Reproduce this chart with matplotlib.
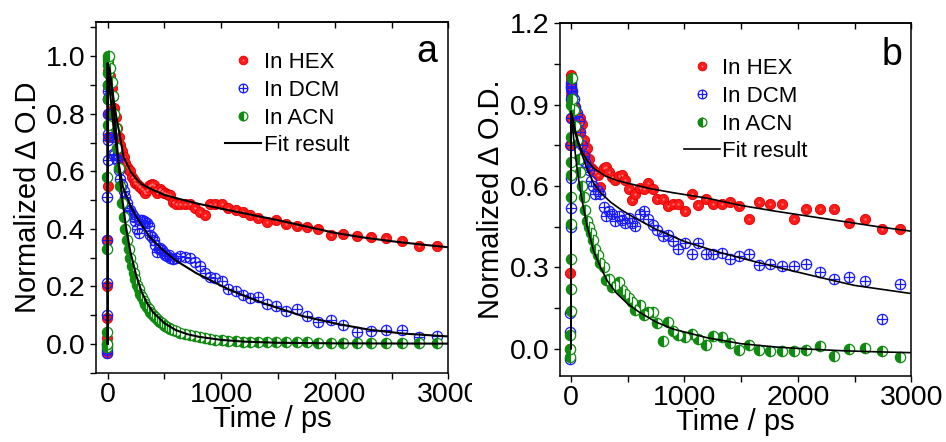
import matplotlib
matplotlib.use("Agg")
import matplotlib.pyplot as plt
from matplotlib.path import Path
from matplotlib.transforms import Bbox, TransformedBbox
from matplotlib.ticker import MultipleLocator, FormatStrFormatter

plt.rcParams['font.family'] = ['Liberation Sans', 'DejaVu Sans']

# ---------------- panel a data (time in ps, normalized dOD) ----------------
time_a = [-8, -6, -5, -4, -3, -2, -1, 0, 1, 2, 3, 4, 6,
          12, 23, 35, 47, 59, 70, 82, 97, 111, 126, 141, 156, 170, 185, 199,
          214, 229, 243, 258, 273, 287, 302, 317, 331, 346, 361, 375, 390,
          405, 419, 434, 449, 463, 478, 493, 507,
          522, 537, 551, 572, 604, 639, 683, 727, 765, 809, 853, 897, 947,
          1006, 1064, 1126, 1190, 1255, 1328, 1401, 1486, 1568, 1665, 1753,
          1856, 1964, 2073, 2193, 2316, 2451, 2594, 2741, 2897]
hex_a = [-0.03, -0.02, 0.02, 0.09, 0.20, 0.36, 0.55, 0.72, 0.80, 0.85, 0.90, 0.95, 0.98,
         0.96, 0.93, 0.89, 0.86, 0.82, 0.79, 0.75, 0.72, 0.69, 0.67, 0.65, 0.63, 0.615, 0.605, 0.60,
         0.58, 0.57, 0.56, 0.555, 0.55, 0.545, 0.54, 0.53, 0.526, 0.535, 0.548, 0.552, 0.555,
         0.551, 0.54, 0.525, 0.535, 0.54, 0.53, 0.523, 0.525,
         0.52, 0.517, 0.517, 0.494, 0.486, 0.486, 0.486, 0.486, 0.471, 0.459, 0.448, 0.486, 0.488,
         0.486, 0.471, 0.467, 0.458, 0.447, 0.439, 0.424, 0.430, 0.416, 0.409, 0.405,
         0.399, 0.378, 0.381, 0.376, 0.370, 0.368, 0.359, 0.342, 0.340]
dcm_a = [-0.03, -0.02, 0.10, 0.21, 0.36, 0.51, 0.64, 0.71, 0.73, 0.80, 0.85, 0.88, 0.90,
         0.86, 0.80, 0.72, 0.66, 0.655, 0.645, 0.638, 0.603, 0.574, 0.551, 0.53, 0.51, 0.49, 0.462, 0.465,
         0.45, 0.44, 0.427, 0.40, 0.384, 0.43, 0.430, 0.428, 0.425, 0.421, 0.41, 0.378, 0.37,
         0.361, 0.345, 0.318, 0.33, 0.332, 0.325, 0.317, 0.31,
         0.305, 0.309, 0.30, 0.295, 0.298, 0.306, 0.303, 0.298, 0.284, 0.271, 0.248, 0.231, 0.228,
         0.217, 0.191, 0.185, 0.171, 0.161, 0.163, 0.138, 0.133, 0.113, 0.121, 0.096,
         0.075, 0.084, 0.065, 0.042, 0.044, 0.050, 0.050, 0.023, 0.027]
acn_a = [-0.01, 0.0, 0.0, 0.04, 0.33, 0.58, 0.76, 0.85, 0.90, 0.94, 0.97, 0.99, 1.0,
         1.0, 0.96, 0.91, 0.86, 0.80, 0.75, 0.68, 0.61, 0.55, 0.49, 0.44, 0.40, 0.36, 0.33, 0.30,
         0.27, 0.245, 0.225, 0.205, 0.19, 0.175, 0.162, 0.15, 0.14, 0.13, 0.12, 0.112, 0.105,
         0.098, 0.092, 0.086, 0.08, 0.075, 0.071, 0.067, 0.063,
         0.059, 0.056, 0.053, 0.049, 0.044, 0.039, 0.034, 0.030, 0.026, 0.023, 0.020, 0.017, 0.015,
         0.013, 0.010, 0.010, 0.008, 0.007, 0.006, 0.006, 0.007, 0.006, 0.006, 0.006,
         0.004, 0.004, 0.004, 0.004, 0.004, 0.004, 0.004, 0.003, 0.003]

# fit curves, panel a
fit_hex_a_t = [0, 0, 20, 40, 60, 80, 100, 140, 200, 250, 300, 400, 500, 600, 800,
               1000, 1250, 1500, 1750, 2000, 2250, 2500, 2750, 3000]
fit_hex_a = [0, 0.975, 0.93, 0.88, 0.83, 0.78, 0.74, 0.65, 0.60, 0.575, 0.555, 0.535, 0.518,
             0.507, 0.487, 0.470, 0.450, 0.430, 0.408, 0.386, 0.370, 0.357, 0.346, 0.336]
fit_dcm_a_t = [0, 0, 20, 50, 100, 135, 200, 252, 369, 487, 600, 780, 1073, 1367,
               1724, 2017, 2310, 2604, 3000]
fit_dcm_a = [0, 0.975, 0.88, 0.76, 0.62, 0.545, 0.48, 0.442, 0.372, 0.326, 0.29, 0.246,
             0.188, 0.142, 0.096, 0.070, 0.049, 0.036, 0.026]
fit_acn_a_t = [0, 0, 20, 40, 60, 80, 100, 130, 160, 200, 250, 300, 350, 400, 500, 600,
               700, 800, 1000, 1200, 1500, 2000, 3000]
fit_acn_a = [0, 0.975, 0.95, 0.88, 0.79, 0.70, 0.61, 0.50, 0.41, 0.32, 0.24, 0.18, 0.14,
             0.11, 0.072, 0.048, 0.034, 0.025, 0.014, 0.008, 0.004, 0.002, 0.001]

# ---------------- panel b data ----------------
time_b = [-8, -6, -5, -4, -3, -2, -1, 0, 1, 2, 3, 4, 6,
          12, 24, 38, 53, 67, 82, 97, 111, 126, 141,
          156, 176, 194, 214, 235, 258, 287, 311, 331, 361,
          390, 419, 449, 478, 507, 537, 566, 610, 645, 683,
          721, 762, 809, 853, 897, 947, 1006, 1065, 1123, 1188,
          1255, 1328, 1402, 1481, 1569, 1657, 1753, 1856, 1964, 2076,
          2193, 2316, 2451, 2595, 2745, 2903]
hex_b = [0.0, 0.28, 0.75, 0.85, 0.92, 0.96, 0.98, 1.01, 1.0, 0.97, 0.95, 0.93, 0.90,
         0.93, 0.90, 0.88, 0.86, 0.80, 0.85, 0.83, 0.77, 0.73, 0.74,
         0.70, 0.665, 0.66, 0.652, 0.64, 0.597, 0.665, 0.671, 0.652, 0.634,
         0.622, 0.636, 0.640, 0.622, 0.588, 0.548, 0.569, 0.594, 0.588, 0.612,
         0.588, 0.551, 0.550, 0.527, 0.532, 0.533, 0.508, 0.569, 0.530, 0.550,
         0.533, 0.533, 0.539, 0.526, 0.479, 0.539, 0.533, 0.533, 0.479, 0.516,
         0.516, 0.516, 0.465, 0.478, 0.443, 0.442]
dcm_b = [-0.04, 0.06, 0.13, 0.45, 0.52, 0.63, 0.75, 0.85, 0.92, 0.96, 0.98, 0.97, 0.95,
         0.93, 0.92, 0.89, 0.87, 0.84, 0.80, 0.75, 0.71, 0.69, 0.67,
         0.66, 0.62, 0.60, 0.572, 0.58, 0.57, 0.523, 0.489, 0.508, 0.498,
         0.471, 0.489, 0.474, 0.462, 0.480, 0.464, 0.452, 0.498, 0.508, 0.478,
         0.455, 0.439, 0.416, 0.418, 0.398, 0.369, 0.391, 0.348, 0.388, 0.348,
         0.348, 0.351, 0.332, 0.341, 0.348, 0.308, 0.311, 0.305, 0.305, 0.311,
         0.283, 0.258, 0.263, 0.249, 0.111, 0.239]
acn_b = [-0.03, 0.0, 0.05, 0.14, 0.22, 0.33, 0.46, 0.56, 0.64, 0.69, 0.78, 0.90, 1.0,
         0.92, 0.88, 0.82, 0.77, 0.70, 0.65, 0.60, 0.56, 0.51, 0.47,
         0.45, 0.425, 0.40, 0.369, 0.345, 0.314, 0.302, 0.252, 0.258, 0.228,
         0.234, 0.246, 0.215, 0.203, 0.185, 0.172, 0.142, 0.160, 0.123, 0.135,
         0.135, 0.095, 0.027, 0.098, 0.064, 0.049, 0.041, 0.053, 0.037, 0.012,
         0.046, 0.043, 0.022, -0.006, 0.012, -0.004, -0.009, -0.010, -0.010, -0.006,
         0.009, -0.028, 0.000, 0.002, -0.009, -0.031]

fit_hex_b_t = [0, 0, 20, 40, 60, 80, 110, 150, 200, 300, 400, 500, 700, 900, 1200,
               1500, 1800, 2100, 2400, 2700, 3000]
fit_hex_b = [0, 0.875, 0.84, 0.80, 0.77, 0.745, 0.715, 0.69, 0.665, 0.637, 0.621, 0.610,
             0.590, 0.575, 0.555, 0.528, 0.507, 0.488, 0.469, 0.450, 0.433]
fit_dcm_b_t = [0, 0, 20, 40, 60, 80, 110, 150, 200, 260, 350, 450, 550, 750, 1000,
               1300, 1600, 1900, 2200, 2500, 3000]
fit_dcm_b = [0, 0.875, 0.83, 0.79, 0.76, 0.735, 0.70, 0.655, 0.61, 0.575, 0.54, 0.51,
             0.485, 0.44, 0.395, 0.356, 0.323, 0.292, 0.262, 0.233, 0.203]
fit_acn_b_t = [0, 0, 20, 40, 60, 80, 110, 140, 200, 260, 320, 400, 500, 600, 750, 900,
               1200, 1500, 1800, 2100, 2400, 2700, 3000]
fit_acn_b = [0, 0.875, 0.79, 0.71, 0.645, 0.59, 0.52, 0.455, 0.36, 0.30, 0.25, 0.205,
             0.165, 0.135, 0.098, 0.072, 0.040, 0.018, 0.006, -0.002, -0.008, -0.012, -0.015]

RED = '#ff1a1a'
BLUE = '#1a1aff'
GREEN = '#108a10'

# circle with a plus inside, like the Origin symbol
oplus = Path.make_compound_path(
    Path.unit_circle(),
    Path([[-1, 0], [1, 0], [0, -1], [0, 1]],
         [Path.MOVETO, Path.LINETO, Path.MOVETO, Path.LINETO]))


def draw_panel(ax, t, hexv, dcmv, acnv, fits, ylim, ymajor, yminor, ylabel,
               letter, leg_xy, lw_fit):
    ms = 7.4
    h1, = ax.plot(t, hexv, 'o', ms=ms, mfc=RED, mec='#e00000', mew=0.6,
                  ls='none', zorder=3)
    # small light spot so the red symbols look like shaded balls
    h1b, = ax.plot(t, hexv, 'o', ms=1.6, mfc='#ff7a7a', mec='none',
                   ls='none', zorder=3)
    h2, = ax.plot(t, dcmv, marker=oplus, ms=ms, mfc='none', mec=BLUE,
                  mew=0.9, ls='none', zorder=3)
    h3, = ax.plot(t, acnv, 'o', ms=ms, fillstyle='left', mfc=GREEN,
                  markerfacecoloralt='white', mec=GREEN, mew=0.9,
                  ls='none', zorder=3)
    for ft, fv in fits:
        hf, = ax.plot(ft, fv, '-', color='black', lw=lw_fit, zorder=4)

    ax.set_xlim(-100, 3000)
    ax.set_ylim(*ylim)
    ax.xaxis.set_major_locator(MultipleLocator(1000))
    ax.xaxis.set_minor_locator(MultipleLocator(500))
    ax.yaxis.set_major_locator(MultipleLocator(ymajor))
    ax.yaxis.set_minor_locator(MultipleLocator(yminor))
    ax.yaxis.set_major_formatter(FormatStrFormatter('%.1f'))
    ax.tick_params(axis='both', which='both', direction='out', length=4.5,
                   width=1.0, labelsize=20.5, top=False, right=False)
    ax.tick_params(axis='x', which='both', pad=2)
    ax.tick_params(axis='y', which='both', pad=3)
    for sp in ax.spines.values():
        sp.set_linewidth(1.1)

    top = ax.secondary_xaxis('top')
    top.xaxis.set_major_locator(MultipleLocator(500))
    top.tick_params(axis='x', which='both', direction='in', length=4.5,
                    width=1.0, labeltop=False)
    top.spines['top'].set_linewidth(1.1)

    ax.set_xlabel('Time / ps', fontsize=21, labelpad=-2)
    ax.set_ylabel(ylabel, fontsize=21, labelpad=3)
    ax.text(letter[1], letter[2], letter[0], transform=ax.transAxes,
            fontsize=27, ha='center', va='baseline')

    leg = ax.legend([(h1, h1b), h2, h3, hf],
                    ['In HEX', 'In DCM', 'In ACN', 'Fit result'],
                    loc='upper left', bbox_to_anchor=leg_xy, frameon=False,
                    fontsize=16, handlelength=1.62, handletextpad=0.12,
                    labelspacing=0.3, borderpad=0, borderaxespad=0,
                    markerscale=0.85, numpoints=1)
    return leg


fig = plt.figure(figsize=(9.46, 4.42), dpi=100)
ax_a = fig.add_axes([0.1018, 0.1568, 0.3721, 0.7942])
ax_b = fig.add_axes([0.5916, 0.150, 0.3717, 0.7973])

draw_panel(ax_a, time_a, hex_a, dcm_a, acn_a,
           [(fit_hex_a_t, fit_hex_a), (fit_dcm_a_t, fit_dcm_a),
            (fit_acn_a_t, fit_acn_a)],
           (-0.1, 1.12), 0.2, 0.1, 'Normalized \u0394 O.D',
           ('a', 0.94, 0.886), (0.366, 0.913), 1.5)
draw_panel(ax_b, time_b, hex_b, dcm_b, acn_b,
           [(fit_hex_b_t, fit_hex_b), (fit_dcm_b_t, fit_dcm_b),
            (fit_acn_b_t, fit_acn_b)],
           (-0.1, 1.2), 0.3, 0.15, 'Normalized \u0394 O.D.',
           ('b', 0.945, 0.882), (0.353, 0.901), 1.2)

# the left panel's last tick label is cut where the right panel starts
clip = TransformedBbox(Bbox([[0, 0], [472 / 946, 1]]), fig.transFigure)
for lab in ax_a.get_xticklabels():
    lab.set_clip_box(clip)
    lab.set_clip_on(True)

fig.savefig('out.png', dpi=100)
